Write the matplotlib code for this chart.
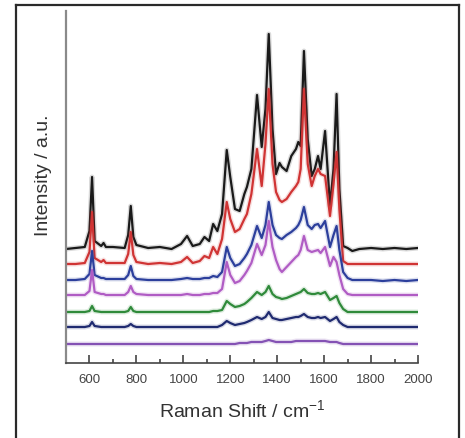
import matplotlib
matplotlib.use("Agg")
import matplotlib.pyplot as plt
from matplotlib.lines import Line2D
from matplotlib.ticker import MultipleLocator

plt.rcParams['font.family'] = ['Liberation Sans', 'DejaVu Sans']
plt.rcParams['mathtext.fontset'] = 'custom'
plt.rcParams['mathtext.rm'] = 'Liberation Sans'
plt.rcParams['mathtext.default'] = 'regular'

wavenumber = [500, 540, 580, 600, 611, 622, 650, 660, 670, 700,
              750, 765, 776, 787, 800, 850, 900, 950, 990, 1016,
              1040, 1070, 1090, 1110, 1127, 1145, 1165, 1185, 1200, 1220,
              1240, 1260, 1271, 1290, 1314, 1334, 1350, 1364, 1380, 1395,
              1410, 1420, 1440, 1460, 1480, 1490, 1500, 1514, 1530, 1547,
              1560, 1574, 1585, 1604, 1625, 1640, 1653, 1665, 1681, 1700,
              1720, 1750, 1800, 1850, 1900, 1950, 2000]

black = [0, 1, 2, 18, 72, 8, 3, 6, 2, 2,
         1, 14, 43, 12, 4, 1, 2, 0, 5, 13,
         3, 5, 12, 8, 25, 18, 35, 99, 72, 40,
         38, 55, 62, 80, 154, 102, 140, 215, 120, 75,
         86, 82, 78, 93, 100, 107, 103, 198, 110, 73,
         80, 93, 80, 118, 43, 80, 155, 60, 3, 1,
         -2, 0, 1, 0, 1, 0, 1]
red = [0, 0, 1, 12, 52, 6, 2, 4, 1, 1,
       1, 10, 32, 9, 2, 0, 1, 0, 2, 7,
       1, 3, 8, 6, 17, 10, 25, 62, 45, 32,
       35, 45, 50, 70, 115, 78, 120, 175, 100, 72,
       64, 62, 65, 72, 78, 82, 95, 175, 100, 78,
       88, 95, 90, 88, 48, 80, 112, 55, 3, 0,
       0, 0, 0, 0, 0, 0, 0]
blue = [0, 0, 1, 6, 29, 5, 2, 2, 1, 1,
        1, 5, 14, 4, 1, 0, 0, 0, 1, 2,
        1, 1, 2, 2, 4, 3, 8, 33, 22, 14,
        16, 22, 26, 35, 54, 42, 55, 78, 55, 45,
        42, 41, 45, 48, 52, 55, 60, 73, 55, 51,
        55, 56, 52, 59, 33, 45, 54, 30, 8, 2,
        0, 0, 0, -1, 0, -1, 0]
purple = [0, 0, 0, 4, 25, 3, 1, 1, 0, 0,
          0, 3, 9, 3, 1, 0, 0, 0, 0, 1,
          0, 0, 1, 1, 2, 2, 6, 33, 20, 12,
          14, 20, 24, 32, 51, 40, 50, 74, 48, 35,
          26, 23, 28, 33, 38, 40, 45, 59, 45, 43,
          44, 45, 42, 48, 29, 38, 33, 20, 6, 1,
          0, 0, 0, 0, 0, 0, 0]
green = [0, 0, 0, 1, 6, 1, 0, 0, 0, 0,
         0, 1, 5, 1, 0, 0, 0, 0, 0, 0,
         0, 0, 0, 0, 1, 1, 2, 11, 8, 5,
         6, 8, 10, 14, 20, 17, 20, 26, 18, 15,
         14, 13, 14, 16, 18, 19, 20, 23, 19, 18,
         18, 19, 18, 20, 12, 14, 16, 9, 3, 0,
         0, 0, 0, 0, 0, 0, 0]
navy = [0, 0, 0, 1, 5, 1, 0, 0, 0, 0,
        0, 1, 3, 1, 0, 0, 0, 0, 0, 0,
        0, 0, 0, 0, 0, 0, 2, 6, 4, 2,
        3, 4, 5, 7, 10, 8, 10, 15, 9, 8,
        7, 7, 8, 9, 10, 10, 11, 13, 10, 9,
        9, 10, 9, 10, 6, 8, 10, 5, 2, 0,
        0, 0, 0, 0, 0, 0, 0]
violet = [0, 0, 0, 0, 0, 0, 0, 0, 0, 0,
          0, 0, 0, 0, 0, 0, 0, 0, 0, 0,
          0, 0, 0, 0, 0, 0, 0, 0, 0, 0,
          1, 1, 1, 2, 2, 2, 3, 4, 3, 2,
          2, 2, 2, 2, 3, 3, 3, 3, 3, 3,
          3, 3, 3, 3, 2, 2, 2, 1, 0, 0,
          0, 0, 0, 0, 0, 0, 0]

series = [black, red, blue, purple, green, navy, violet]
offsets = [114, 99, 83, 68, 51, 36, 19]
colors = ['#1a1a1a', '#d03434', '#2c3f9c', '#b05cc4', '#2f8a3a', '#1f2a70', '#8452b4']
xticks = [600, 800, 1000, 1200, 1400, 1600, 1800, 2000]

fig = plt.figure(figsize=(4.65, 4.39), dpi=100)
ax = fig.add_axes([66 / 465, 1 - 364 / 439, 352 / 465, 352 / 439])

for vals, off, c in zip(series, offsets, colors):
    yv = [v + off for v in vals]
    ax.plot(wavenumber, yv, color=c, lw=3.6, alpha=0.16, solid_joinstyle='round')
    ax.plot(wavenumber, yv, color=c, lw=1.6, solid_joinstyle='round')

ax.set_xlim(500, 2000)
ax.set_ylim(0, 352)
ax.set_yticks([])
ax.xaxis.set_minor_locator(MultipleLocator(100))
ax.set_xticks(xticks)
ax.set_xticklabels([str(t) for t in xticks])
ax.tick_params(axis='x', which='major', direction='in', length=6, width=1.2,
               color='#444444', labelsize=9.5, labelcolor='#444444', pad=7)
ax.tick_params(axis='x', which='minor', direction='in', length=3, width=1.2, color='#444444')
ax.spines['top'].set_visible(False)
ax.spines['right'].set_visible(False)
ax.spines['left'].set_color('#8a8a8a')
ax.spines['left'].set_linewidth(1.6)
ax.spines['bottom'].set_color('#444444')
ax.spines['bottom'].set_linewidth(1.2)

ax.set_xlabel('Raman Shift / cm$^{-1}$', fontsize=14, color='#333333', labelpad=10)
ax.set_ylabel('Intensity / a.u.', fontsize=14, color='#333333')
ax.yaxis.set_label_coords(-0.04, 0.537)

# outer frame (left, top, right)
fw = 1.6
fig.add_artist(Line2D([16 / 465, 16 / 465], [0, 1 - 5.5 / 439], transform=fig.transFigure,
                      color='#2a2a2a', lw=fw))
fig.add_artist(Line2D([16 / 465, 458.5 / 465], [1 - 5.5 / 439, 1 - 5.5 / 439],
                      transform=fig.transFigure, color='#2a2a2a', lw=fw))
fig.add_artist(Line2D([458.5 / 465, 458.5 / 465], [0, 1 - 5.5 / 439], transform=fig.transFigure,
                      color='#2a2a2a', lw=fw))

fig.savefig('out.png', dpi=100)
